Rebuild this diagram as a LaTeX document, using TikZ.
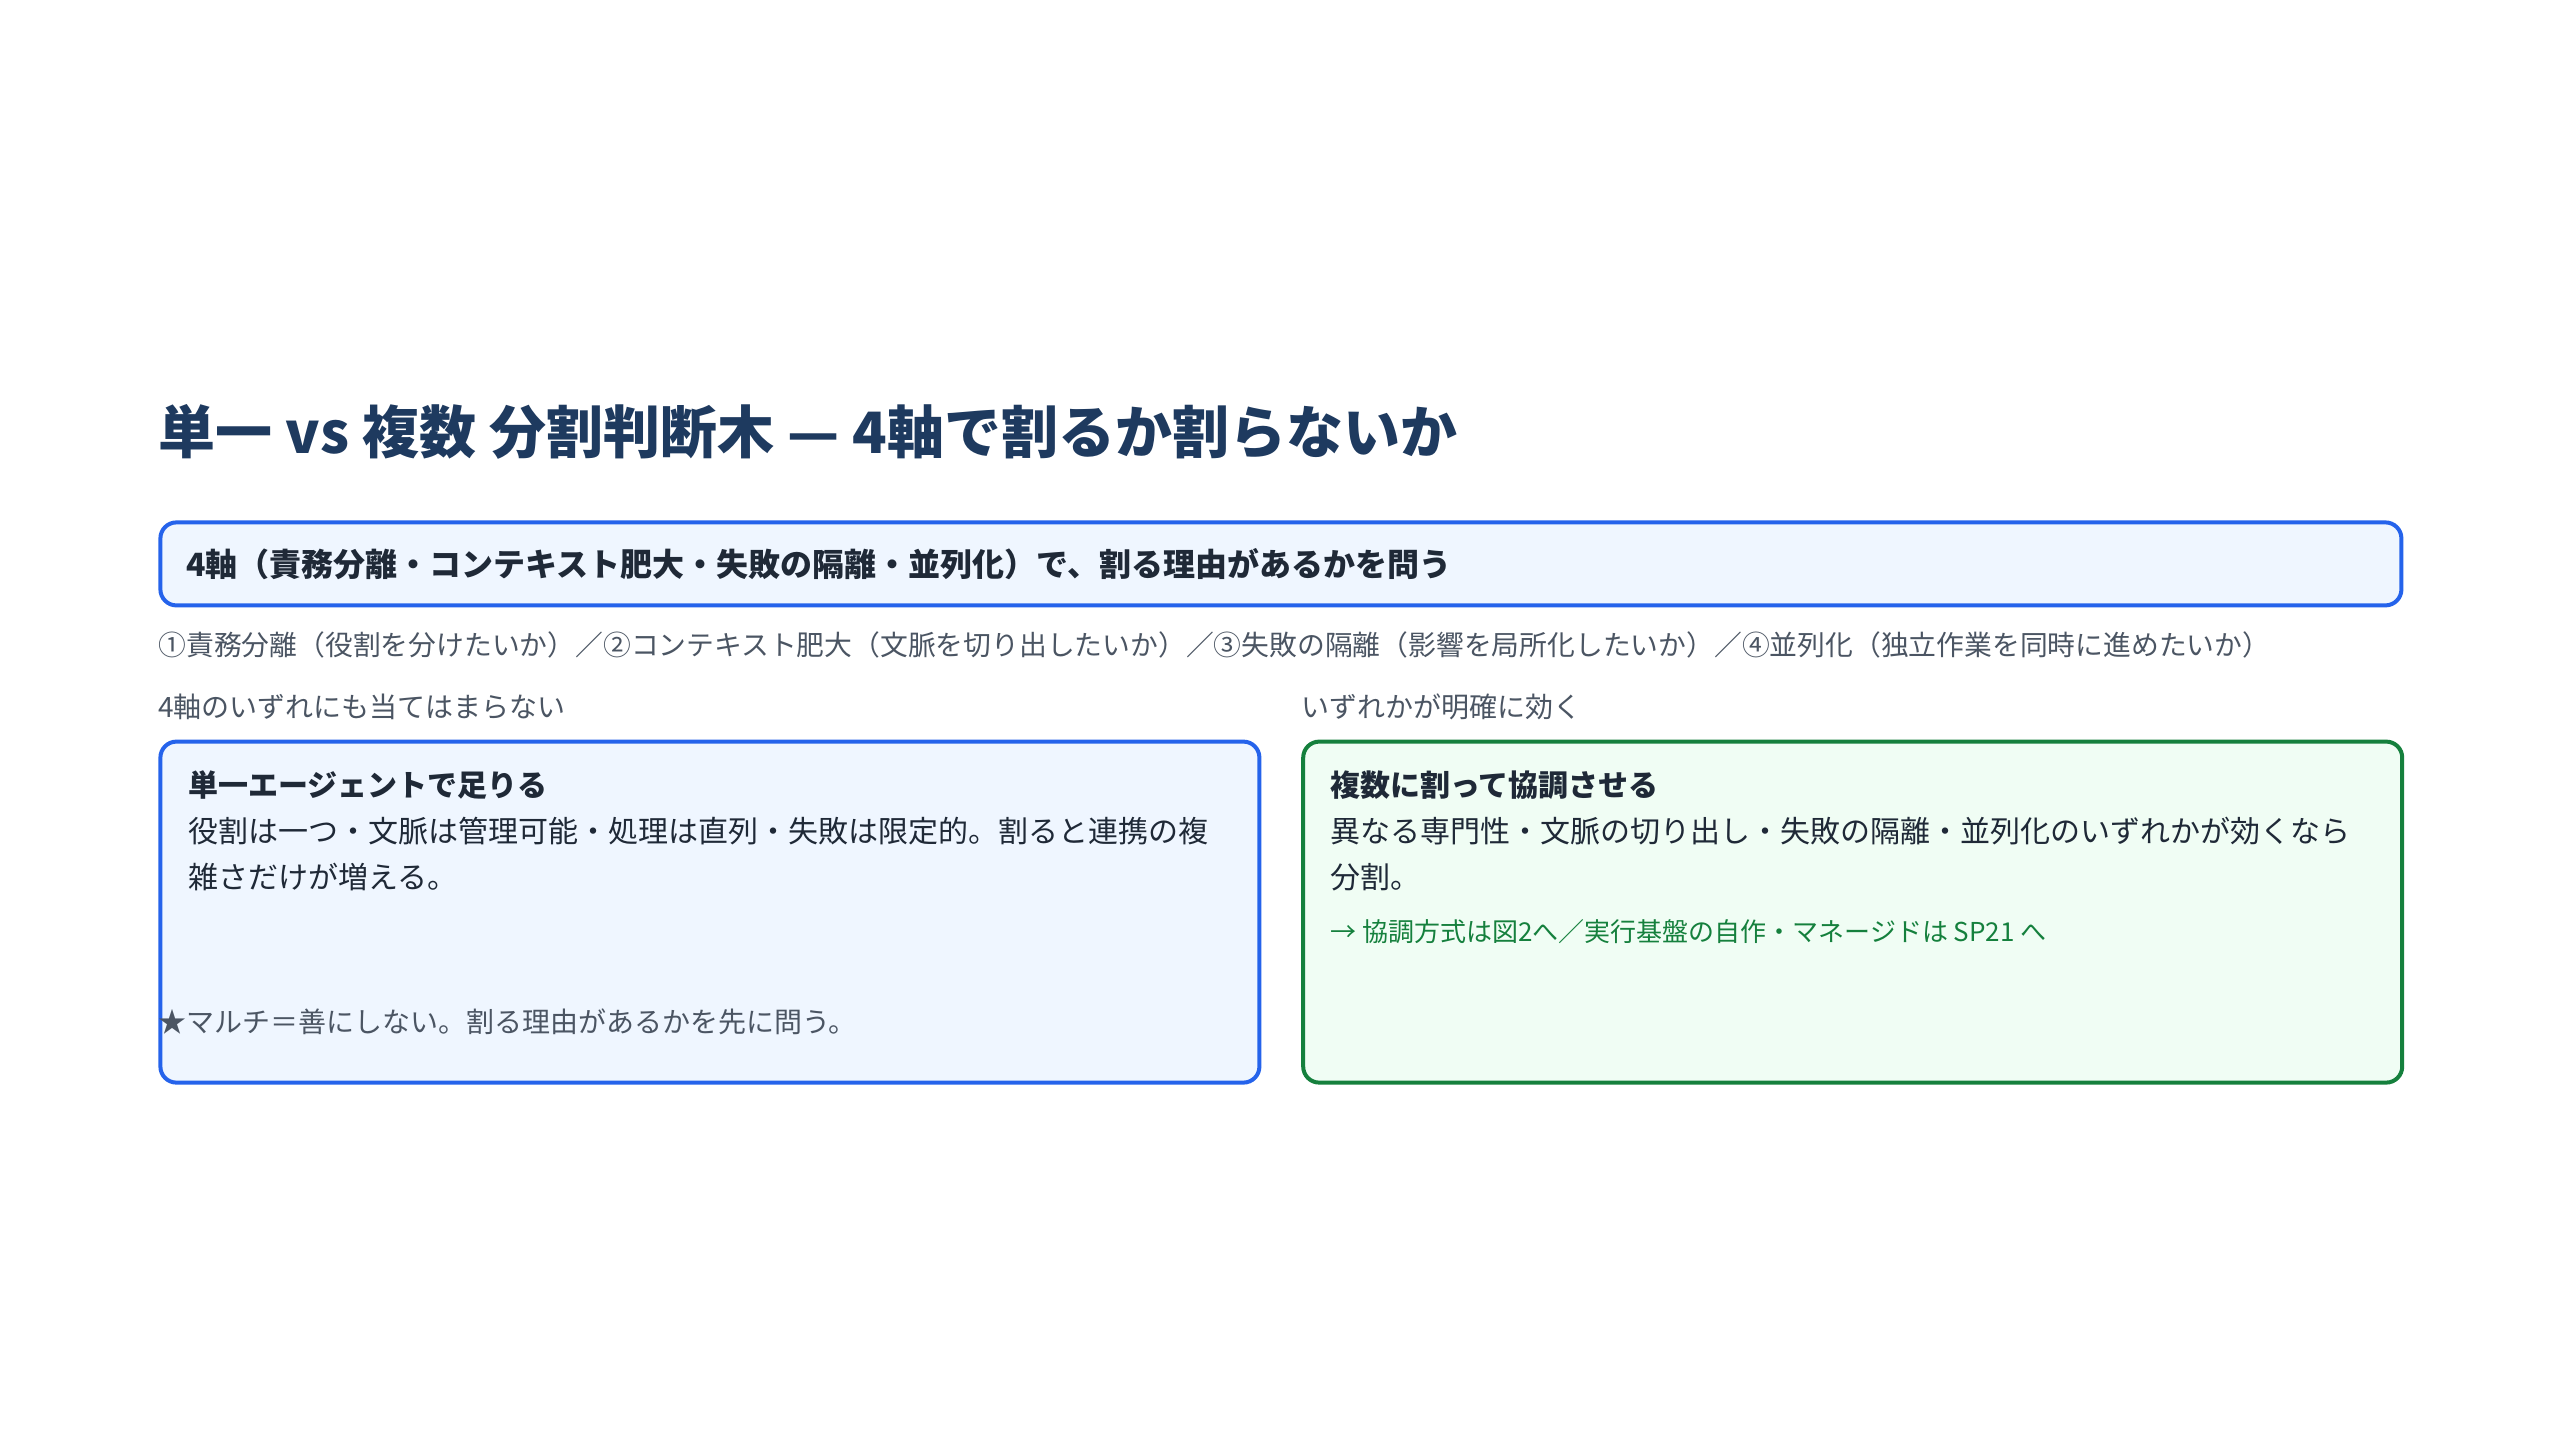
\documentclass[tikz,border=0pt]{standalone}
\usepackage{fontspec}
\setmainfont{Noto Sans CJK JP}
\usetikzlibrary{positioning}
\definecolor{navy}{HTML}{1E3A5F}
\definecolor{ink}{HTML}{1F2937}
\definecolor{muted}{HTML}{4B5563}
\definecolor{blueline}{HTML}{2563EB}
\definecolor{bluefill}{HTML}{EFF6FF}
\definecolor{greenline}{HTML}{15803D}
\definecolor{greenfill}{HTML}{F0FDF4}

\begin{document}
\begin{tikzpicture}[x=1pt, y=-1pt,
    txt/.style={anchor=west, inner sep=0pt, align=left},
    bluebox/.style={draw=blueline, fill=bluefill, line width=2pt, rounded corners=8pt},
    greenbox/.style={draw=greenline, fill=greenfill, line width=2pt, rounded corners=8pt},
    panel/.style={anchor=north west, minimum width=549.5pt, minimum height=170.5pt, inner sep=0pt}]
    \useasboundingbox[fill=white] (0,0) rectangle (1280,720);
    % title
    \node[txt, font=\fontsize{28.5}{34}\selectfont\bfseries, text=navy] (title) at (79,216)
        {単一 vs 複数 分割判断木 — 4軸で割るか割らないか};
    % question box
    \node[bluebox, anchor=north west, text width=1094.5pt, inner xsep=13pt, minimum height=41.5pt,
        font=\fontsize{16}{20}\selectfont\bfseries, text=ink, align=left] (axes) at (79.2,260.2)
        {4軸（責務分離・コンテキスト肥大・失敗の隔離・並列化）で、割る理由があるかを問う};
    \node[txt, font=\fontsize{13.9}{18}\selectfont, text=muted] (axeslist) at (79,322.5)
        {①責務分離（役割を分けたいか）／②コンテキスト肥大（文脈を切り出したいか）／③失敗の隔離（影響を局所化したいか）／④並列化（独立作業を同時に進めたいか）};
    % branch labels
    \node[txt, font=\fontsize{14}{18}\selectfont, text=muted] (nolabel) at (79,353.5) {4軸のいずれにも当てはまらない};
    \node[txt, font=\fontsize{14}{18}\selectfont, text=muted] (yeslabel) at (650.6,353.5) {いずれかが明確に効く};
    % left panel
    \node[bluebox, panel] (single) at (79.2,369.8) {};
    \node[txt, font=\fontsize{15}{20}\selectfont\bfseries, text=ink] (singlehead) at (94,392.6) {単一エージェントで足りる};
    \node[txt, font=\fontsize{15}{23}\selectfont, text=ink, anchor=north west] (singlebody) at (94,408.5)
        {役割は一つ・文脈は管理可能・処理は直列・失敗は限定的。割ると連携の複\\雑さだけが増える。};
    \node[txt, font=\fontsize{14}{18}\selectfont, text=muted] (singlenote) at (79,511) {★マルチ＝善にしない。割る理由があるかを先に問う。};
    % right panel
    \node[greenbox, panel] (multi) at (650.6,369.8) {};
    \node[txt, font=\fontsize{15}{20}\selectfont\bfseries, text=ink] (multihead) at (665,392.6) {複数に割って協調させる};
    \node[txt, font=\fontsize{15}{23}\selectfont, text=ink, anchor=north west] (multibody) at (665,408.5)
        {異なる専門性・文脈の切り出し・失敗の隔離・並列化のいずれかが効くなら\\分割。};
    \node[txt, font=\fontsize{13}{16}\selectfont, text=greenline] (multilink) at (665,466)
        {→ 協調方式は図2へ／実行基盤の自作・マネージドは SP21 へ};
\end{tikzpicture}
\end{document}
